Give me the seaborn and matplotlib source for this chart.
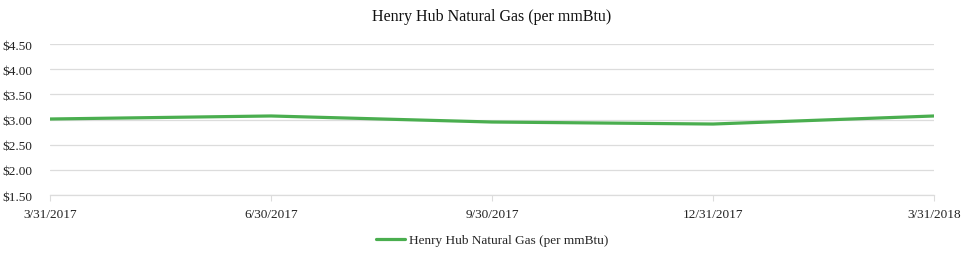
import matplotlib
matplotlib.use("Agg")
import matplotlib.pyplot as plt
import seaborn as sns
import pandas as pd

dates = ["3/31/2017", "6/30/2017", "9/30/2017", "12/31/2017", "3/31/2018"]
prices = [3.01, 3.07, 2.95, 2.91, 3.07]
series_name = "Henry Hub Natural Gas (per mmBtu)"
yticks = [1.5, 2.0, 2.5, 3.0, 3.5, 4.0, 4.5]

sns.set_theme(style="white")
plt.rcParams['font.family'] = ['Liberation Serif', 'DejaVu Serif']

df = pd.DataFrame({"pos": range(len(dates)), "price": prices, "series": series_name})

fig = plt.figure(figsize=(9.71, 2.55), dpi=100)
ax = fig.add_axes([50/971, 1-196/255, (934-50)/971, (196-45)/255])

sns.lineplot(data=df, x="pos", y="price", hue="series", palette=["#4aae4f"],
             linewidth=2.3, ax=ax)

ax.set_xlim(0, len(dates)-1)
ax.set_ylim(1.5, 4.5)
ax.set_yticks(yticks)
ax.set_yticklabels([f"${v:.2f}" for v in yticks])
ax.set_xticks(range(len(dates)))
ax.set_xticklabels(dates)
ax.set_xlabel("")
ax.set_ylabel("")
for v in yticks:
    ax.axhline(v, color="#dcdcdc", linewidth=0.9, zorder=0)
for s in ["top", "right", "left"]:
    ax.spines[s].set_visible(False)
ax.spines["bottom"].set_color("#dcdcdc")
ax.spines["bottom"].set_linewidth(0.9)
ax.tick_params(axis="x", which="both", bottom=True, length=4, width=0.8, color="#dcdcdc",
               labelsize=9.5, pad=5, labelcolor="#222222")
ax.tick_params(axis="y", left=False, labelsize=9.5, pad=7, labelcolor="#222222")

ax.set_title(series_name, fontsize=11.5, pad=17, color="#111111")
leg = ax.legend(loc="upper center", bbox_to_anchor=(0.5, -0.18), frameon=False,
                fontsize=9.5, handlelength=2.2, handletextpad=0.3)

fig.savefig("out.png", dpi=100)
